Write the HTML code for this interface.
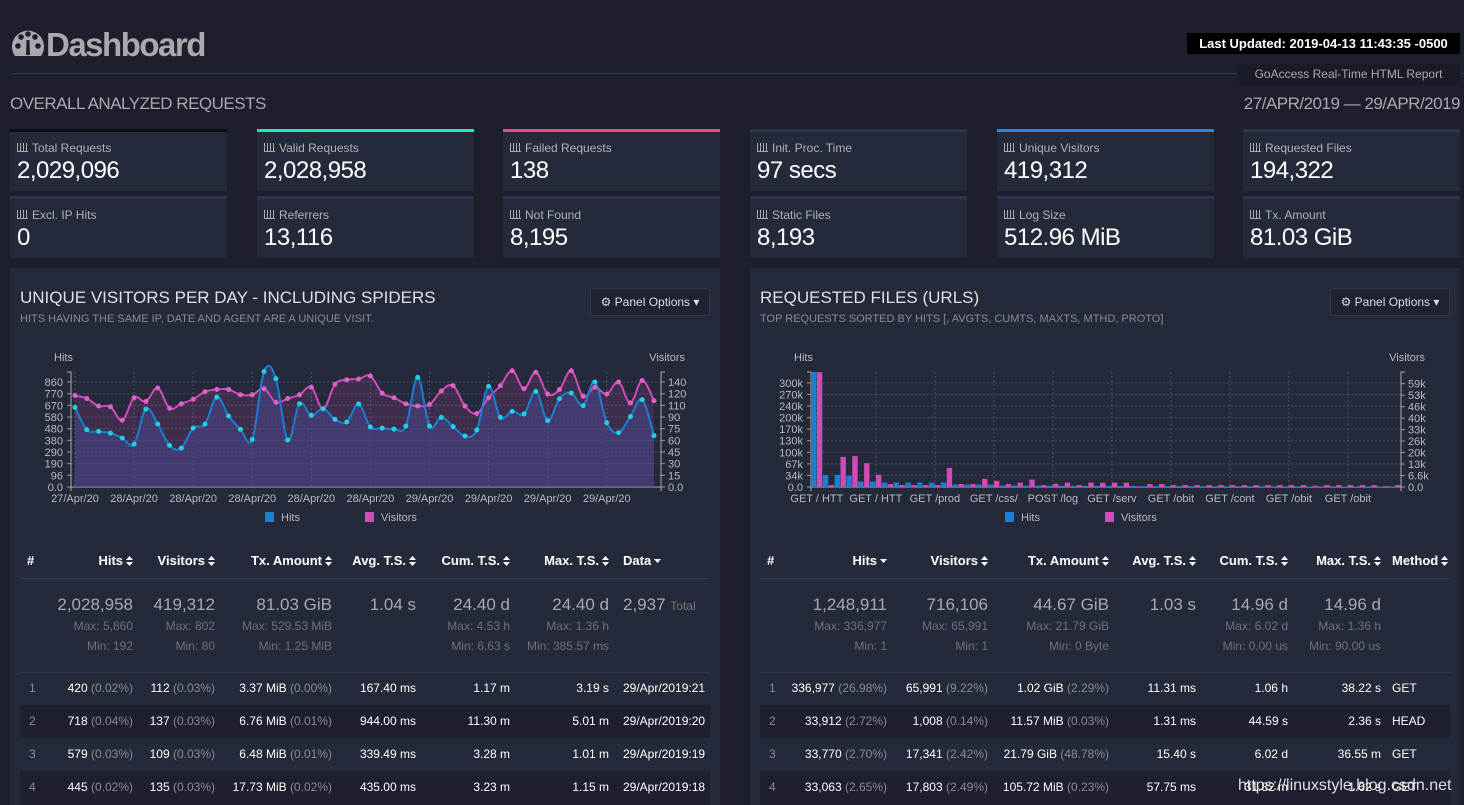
<!DOCTYPE html>
<html><head><meta charset="utf-8"><style>
*{box-sizing:border-box;margin:0;padding:0}
body{width:1464px;height:805px;overflow:hidden;background:#1e1f2d;font-family:"Liberation Sans",sans-serif;position:relative;color:#ddd}
.a{position:absolute;white-space:nowrap}
.card{position:absolute;width:217px;height:62px;background:#252a3b;border-top:3px solid #2d3452}
.card .l{position:absolute;left:7px;top:9px;font-size:12px;color:#b0b0b8}
.card .v{position:absolute;left:7px;top:25px;font-size:24px;color:#fff;letter-spacing:-0.5px}
.ic{display:inline-block;width:11px;height:9px;border-left:1px solid #aaa;border-bottom:1px solid #aaa;margin-right:4px;position:relative;background:linear-gradient(to right,transparent 2px,#aaa 2px,#aaa 3px,transparent 3px,transparent 5px,#aaa 5px,#aaa 6px,transparent 6px,transparent 8px,#aaa 8px,#aaa 9px,transparent 9px)}
.panel{position:absolute;top:268px;width:710px;height:537px;background:#252a3b}
.pt{position:absolute;left:10px;top:20px;font-size:17px;color:#e0e0e0}
.ps{position:absolute;left:10px;top:45px;font-size:11px;color:#8a8a96}
.po{position:absolute;right:10px;top:20px;width:120px;height:28px;background:#1f2231;border:1px solid #32374c;border-radius:3px;font-size:12px;color:#ddd;text-align:center;line-height:26px}
.th{position:absolute;top:553px;font-size:13px;font-weight:bold;color:#fff}
.big{position:absolute;font-size:17px;color:#a8a8b0}
.mm{position:absolute;font-size:12px;color:#70707c}
.td{position:absolute;font-size:12px;color:#fff}
.g{color:#8a8a96}
.r{text-align:right}
.arr{display:inline-block;width:7px;height:10px;margin-left:3px;vertical-align:-1px}
</style></head><body>
<div class="a" style="left:10px;top:26px;font-size:33px;font-weight:bold;color:#a9a9ae;letter-spacing:-1.5px">
<svg width="36" height="30" viewBox="0 0 36 30" style="vertical-align:-2px"><path d="M5 28 A16 16 0 1 1 31 28 Z" fill="#a9a9ae"/><circle cx="8" cy="18" r="2.8" fill="#1e1f2d"/><circle cx="11" cy="9" r="2.8" fill="#1e1f2d"/><circle cx="18" cy="6" r="2.8" fill="#1e1f2d"/><circle cx="25" cy="9" r="2.8" fill="#1e1f2d"/><circle cx="28" cy="18" r="2.8" fill="#1e1f2d"/><path d="M16.5 12 L19.5 12 L20 27 L16 27Z" fill="#1e1f2d"/></svg>Dashboard</div>
<div class="a" style="left:1187px;top:33px;width:273px;height:21px;background:#000;color:#fff;font-weight:bold;font-size:13px;line-height:21px;text-align:center">Last Updated: 2019-04-13 11:43:35 -0500</div>
<div class="a" style="left:10px;top:73px;width:1454px;height:1px;background:#2f3a5c"></div>
<div class="a" style="left:1237px;top:64px;width:223px;height:21px;background:#1a1b27;color:#aaa;font-size:12px;line-height:21px;text-align:center">GoAccess Real-Time HTML Report</div>
<div class="a" style="left:10px;top:94px;font-size:17px;color:#a8a8b0;letter-spacing:-0.5px">OVERALL ANALYZED REQUESTS</div>
<div class="a" style="right:4px;top:94px;font-size:17px;color:#a8a8b0;letter-spacing:-0.5px">27/APR/2019 — 29/APR/2019</div>

<div class="card" style="left:10px;top:129px;border-top-color:#0e0f16"><div class="l"><span class="ic"></span>Total Requests</div><div class="v">2,029,096</div></div>
<div class="card" style="left:257px;top:129px;border-top-color:#14eebf"><div class="l"><span class="ic"></span>Valid Requests</div><div class="v">2,028,958</div></div>
<div class="card" style="left:503px;top:129px;border-top-color:#ec4d8a"><div class="l"><span class="ic"></span>Failed Requests</div><div class="v">138</div></div>
<div class="card" style="left:750px;top:129px"><div class="l"><span class="ic"></span>Init. Proc. Time</div><div class="v">97 secs</div></div>
<div class="card" style="left:997px;top:129px;border-top-color:#2a86e0"><div class="l"><span class="ic"></span>Unique Visitors</div><div class="v">419,312</div></div>
<div class="card" style="left:1243px;top:129px"><div class="l"><span class="ic"></span>Requested Files</div><div class="v">194,322</div></div>
<div class="card" style="left:10px;top:196px"><div class="l"><span class="ic"></span>Excl. IP Hits</div><div class="v">0</div></div>
<div class="card" style="left:257px;top:196px"><div class="l"><span class="ic"></span>Referrers</div><div class="v">13,116</div></div>
<div class="card" style="left:503px;top:196px"><div class="l"><span class="ic"></span>Not Found</div><div class="v">8,195</div></div>
<div class="card" style="left:750px;top:196px"><div class="l"><span class="ic"></span>Static Files</div><div class="v">8,193</div></div>
<div class="card" style="left:997px;top:196px"><div class="l"><span class="ic"></span>Log Size</div><div class="v">512.96 MiB</div></div>
<div class="card" style="left:1243px;top:196px"><div class="l"><span class="ic"></span>Tx. Amount</div><div class="v">81.03 GiB</div></div>

<div class="panel" style="left:10px">
<div class="pt">UNIQUE VISITORS PER DAY - INCLUDING SPIDERS</div>
<div class="ps">HITS HAVING THE SAME IP, DATE AND AGENT ARE A UNIQUE VISIT.</div>
<div class="po">⚙ Panel Options ▾</div>
<div class="a" style="left:10px;top:437px;width:690px;height:33px;background:#1e2030"></div>
<div class="a" style="left:10px;top:503px;width:690px;height:34px;background:#1e2030"></div>
<div class="a" style="left:10px;top:310px;width:690px;height:1px;background:#30395a"></div>
<div class="a" style="left:10px;top:404px;width:690px;height:1px;background:#30395a"></div>
</div>
<div class="panel" style="left:750px">
<div class="pt">REQUESTED FILES (URLS)</div>
<div class="ps">TOP REQUESTS SORTED BY HITS [, AVGTS, CUMTS, MAXTS, MTHD, PROTO]</div>
<div class="po">⚙ Panel Options ▾</div>
<div class="a" style="left:10px;top:437px;width:690px;height:33px;background:#1e2030"></div>
<div class="a" style="left:10px;top:503px;width:690px;height:34px;background:#1e2030"></div>
<div class="a" style="left:10px;top:310px;width:690px;height:1px;background:#30395a"></div>
<div class="a" style="left:10px;top:404px;width:690px;height:1px;background:#30395a"></div>
</div>

<svg id="c" class="a" style="left:0;top:0" width="1464" height="805"></svg>
<div id="tables"></div>
<div class="a" style="left:1238px;top:777px;font-size:16px;color:rgba(255,255,255,0.85)">https://linuxstyle.blog.csdn.net</div>

<script>
// ---- Left chart data ----
const dayLabels = ["27/Apr/20","28/Apr/20","28/Apr/20","28/Apr/20","28/Apr/20","28/Apr/20","29/Apr/20","29/Apr/20","29/Apr/20","29/Apr/20"];
const hitsSeries = [653,470,456,442,401,352,639,516,341,319,483,516,737,582,473,390,947,888,385,683,587,642,555,533,681,492,483,475,500,899,500,571,495,418,467,825,571,620,599,784,544,724,771,667,861,527,445,577,716,421];
const visitorsSeries = [122,118,108,107,89,119,114,132,105,111,117,127,130,130,123,123,131,113,118,123,133,104,137,143,144,148,125,119,111,108,110,128,135,108,98,119,135,155,131,153,124,130,155,121,133,124,140,112,142,115];
const hitsTickVals = [0,96,191,287,383,478,574,670,765,861];
const hitsTickLabels = ["0.0","96","190","290","380","480","580","670","770","860"];
const visTickVals = [0,15.6,31.1,46.7,62.2,77.8,93.3,108.9,124.4,140];
const visTickLabels = ["0.0","15","30","45","60","75","90","110","120","140"];
// ---- Right chart data ----
const fileCats = ["GET / HTTP/1.1","GET / HTTP/2","GET /products","GET /css/main","POST /login","GET /services","GET /obituaries","GET /contact","GET /obituaries/2","GET /obituaries/3"];
const fileHits = [336977,35000,35000,33000,16000,16000,13000,13000,13000,13000,13000,13000,7000,7000,7000,7000,4500,4200,4000,3800,3600,3500,3400,3300,3200,3100,3000,2900,2800,2700,2600,2500,2400,2300,2200,2100,2000,2000,1900,1900,1800,1800,1700,1700,1600,1600,1500,1500,1500,1400];
const fileVisitors = [65991,1100,17341,17803,13700,7000,1700,1100,1100,1100,1100,11000,1700,1700,4700,3600,1700,2500,4200,1100,1800,2500,1100,2500,2500,2500,2500,300,1700,1700,1100,1100,1100,1100,1100,1100,1100,1100,1100,1100,1100,1100,700,1100,1100,1100,1100,1100,500,1100];
const fileHitTickVals = [0,33600,67200,100800,134400,168000,201600,235200,268800,302400];
const fileHitTickLabels = ["0.0","34k","67k","100k","130k","170k","200k","240k","270k","300k"];
const fileVisTickVals = [0,6600,13200,19800,26400,33000,39600,46200,52800,59400];
const fileVisTickLabels = ["0.0","6.6k","13k","20k","26k","33k","40k","46k","53k","59k"];

const NS="http://www.w3.org/2000/svg";
const svg=document.getElementById('c');
function mk(tag,attrs,parent){const e=document.createElementNS(NS,tag);for(const k in attrs)e.setAttribute(k,attrs[k]);(parent||svg).appendChild(e);return e;}
function txt(x,y,s,anchor,fill,size){const t=mk('text',{x:x,y:y,'text-anchor':anchor,fill:fill,'font-size':size,'font-family':'Liberation Sans, sans-serif'});t.textContent=s;return t;}
function smooth(pts){let d='M'+pts[0][0]+','+pts[0][1];for(let i=0;i<pts.length-1;i++){const p0=pts[Math.max(0,i-1)],p1=pts[i],p2=pts[i+1],p3=pts[Math.min(pts.length-1,i+2)];const t=0.18;d+=' C'+(p1[0]+(p2[0]-p0[0])*t)+','+(p1[1]+(p2[1]-p0[1])*t)+' '+(p2[0]-(p3[0]-p1[0])*t)+','+(p2[1]-(p3[1]-p1[1])*t)+' '+p2[0]+','+p2[1];}return d;}

function axes(off,lvals,llabels,lscale,rvals,rlabels,rscale,xlines){
  const L=71+off,R=661+off,B=487,T=372;
  xlines.forEach(x=>{const g=mk('line',{x1:x,x2:x,y1:T,y2:B,stroke:'#4a4e60','stroke-dasharray':'2,2'});});
  lvals.forEach((v,i)=>{const y=lscale(v);if(i>0){const g=mk('line',{x1:L,x2:R,y1:y,y2:y,stroke:'#4a4e60','stroke-dasharray':'2,2'});}
    mk('line',{x1:L-4,x2:L,y1:y,y2:y,stroke:'#999'});
    const t=txt(L-8,y+4,llabels[i],'end','#b8b8c0',11);});
  rvals.forEach((v,i)=>{const y=rscale(v);mk('line',{x1:R,x2:R+4,y1:y,y2:y,stroke:'#999'});
    const t=txt(R+7,y+4,rlabels[i],'start','#b8b8c0',11);});
  mk('path',{d:'M'+(L-4)+','+T+'H'+L+'V'+(B+4),fill:'none',stroke:'#aaa'});
  mk('path',{d:'M'+(R+4)+','+T+'H'+R+'V'+(B+4),fill:'none',stroke:'#aaa'});
  mk('line',{x1:L,x2:R,y1:B,y2:B,stroke:'#aaa'});
  let t=txt(L-17,361,'Hits','start','#b8b8c0',11);
  t=txt(R+24,361,'Visitors','end','#b8b8c0',11);
  [[off+265,'#1a7fd0','Hits'],[off+365,'#d04ab8','Visitors']].forEach(l=>{const r=mk('rect',{x:l[0],y:512,width:9,height:10,fill:l[1]});txt(l[0]+16,521,l[2],'start','#b8b8c0',11);});
}

// Left chart
(function(){
  const n=hitsSeries.length, x0=75, x1=654;
  const xs=i=>x0+(x1-x0)*i/(n-1);
  const hy=v=>487-v*105/861, vy=v=>487-v*105/140;
  const xl=[];for(let i=0;i<n;i+=5)xl.push(xs(i));
  axes(0,hitsTickVals,hitsTickLabels,hy,visTickVals,visTickLabels,vy,xl);
  const vp=visitorsSeries.map((v,i)=>[xs(i),vy(v)]), hp=hitsSeries.map((v,i)=>[xs(i),hy(v)]);
  let a=mk('path',{d:smooth(vp)+' L'+x1+',487 L'+x0+',487 Z',fill:'#d04ab8','fill-opacity':0.15});
  a=mk('path',{d:smooth(hp)+' L'+x1+',487 L'+x0+',487 Z',fill:'#4a4a9a','fill-opacity':0.45});
  let l=mk('path',{d:smooth(vp),fill:'none',stroke:'#d04ab8','stroke-width':2});
  l=mk('path',{d:smooth(hp),fill:'none',stroke:'#1a7fd0','stroke-width':2});
  vp.forEach(p=>{const c=mk('circle',{cx:p[0],cy:p[1],r:2.5,fill:'#e060c8'});});
  hp.forEach(p=>{const c=mk('circle',{cx:p[0],cy:p[1],r:2.5,fill:'#20d0e0'});});
  dayLabels.forEach((s,k)=>{const t=txt(xs(k*5),502,s,'middle','#b8b8c0',11);});
})();

// Right chart
(function(){
  const off=740,L=71+off,R=661+off,n=fileHits.length,w=(R-L)/n;
  const hy=v=>487-Math.min(v,336977)*103.3/300000, vy=v=>487-Math.min(v,65991)*103.3/59400;
  const xl=[];for(let i=0;i<n;i+=5)xl.push(L+i*w+w/2);
  axes(off,fileHitTickVals,fileHitTickLabels,hy,fileVisTickVals,fileVisTickLabels,vy,xl);
  fileHits.forEach((v,i)=>{const y=Math.max(372,hy(v));const b=mk('rect',{x:L+i*w,y:y,width:w/2-0.5,height:487-y,fill:'#1a7fd0'});});
  fileVisitors.forEach((v,i)=>{const y=Math.max(372,vy(v));const b=mk('rect',{x:L+i*w+w/2,y:y,width:w/2-0.5,height:487-y,fill:'#d04ab8'});});
  fileCats.forEach((s,k)=>{const t=txt(L+k*5*w+w/2,502,s.slice(0,9),'middle','#b8b8c0',11);});
})();

// Tables
const arrSvg='<svg class="arr" viewBox="0 0 7 10"><path d="M0 4L3.5 0L7 4Z M0 6L3.5 10L7 6Z" fill="#fff"/></svg>';
const dn='<svg class="arr" viewBox="0 0 7 10"><path d="M0 3L3.5 7L7 3Z" fill="#fff"/></svg>';
const T=document.getElementById('tables');
function add(html){T.insertAdjacentHTML('beforeend',html);}
function table(off,heads,rights,lastLeft,summary,rows){
  add('<div class="th a" style="left:'+(off+27)+'px">#</div>');
  heads.forEach((h,i)=>{const last=i==heads.length-1;
    add('<div class="th a '+(last?'':'r')+'" style="'+(last?'left:'+lastLeft+'px;':'left:'+(rights[i]-140)+'px;width:140px;')+'">'+h[0]+(h[1]?dn:arrSvg)+'</div>');});
  summary.forEach((c,i)=>{if(!c)return;const last=i==summary.length-1;
    const pos=last?'left:'+lastLeft+'px;':'left:'+(rights[i]-140)+'px;width:140px;';
    add('<div class="big a '+(last?'':'r')+'" style="top:595px;'+pos+'">'+c[0]+'</div>');
    if(c[1])add('<div class="mm a r" style="top:619px;'+pos+'">'+c[1]+'</div>');
    if(c[2])add('<div class="mm a r" style="top:639px;'+pos+'">'+c[2]+'</div>');});
  rows.forEach((r,ri)=>{const y=681+ri*33;
    add('<div class="td a g" style="top:'+y+'px;left:'+(off+29)+'px">'+(ri+1)+'</div>');
    r.forEach((c,i)=>{const last=i==r.length-1;
      add('<div class="td a '+(last?'':'r')+'" style="top:'+y+'px;'+(last?'left:'+lastLeft+'px;':'left:'+(rights[i]-140)+'px;width:140px;')+'">'+c+'</div>');});});
}
table(0,[["Hits"],["Visitors"],["Tx. Amount"],["Avg. T.S."],["Cum. T.S."],["Max. T.S."],["Data",1]],[133,215,332,416,510,609],623,
 [["2,028,958","Max: 5,860","Min: 192"],["419,312","Max: 802","Min: 80"],["81.03 GiB","Max: 529.53 MiB","Min: 1.25 MiB"],["1.04 s"],["24.40 d","Max: 4.53 h","Min: 6.63 s"],["24.40 d","Max: 1.36 h","Min: 385.57 ms"],['2,937 <span style="font-size:12px;color:#777">Total</span>']],
 [['420 <span class="g">(0.02%)</span>','112 <span class="g">(0.03%)</span>','3.37 MiB <span class="g">(0.00%)</span>','167.40 ms','1.17 m','3.19 s','29/Apr/2019:21'],
  ['718 <span class="g">(0.04%)</span>','137 <span class="g">(0.03%)</span>','6.76 MiB <span class="g">(0.01%)</span>','944.00 ms','11.30 m','5.01 m','29/Apr/2019:20'],
  ['579 <span class="g">(0.03%)</span>','109 <span class="g">(0.03%)</span>','6.48 MiB <span class="g">(0.01%)</span>','339.49 ms','3.28 m','1.01 m','29/Apr/2019:19'],
  ['445 <span class="g">(0.02%)</span>','135 <span class="g">(0.03%)</span>','17.73 MiB <span class="g">(0.02%)</span>','435.00 ms','3.23 m','1.15 m','29/Apr/2019:18']]);
table(740,[["Hits",1],["Visitors"],["Tx. Amount"],["Avg. T.S."],["Cum. T.S."],["Max. T.S."],["Method"]],[887,988,1109,1196,1288,1381],1392,
 [["1,248,911","Max: 336,977","Min: 1"],["716,106","Max: 65,991","Min: 1"],["44.67 GiB","Max: 21.79 GiB","Min: 0 Byte"],["1.03 s"],["14.96 d","Max: 6.02 d","Min: 0.00 us"],["14.96 d","Max: 1.36 h","Min: 90.00 us"],null],
 [['336,977 <span class="g">(26.98%)</span>','65,991 <span class="g">(9.22%)</span>','1.02 GiB <span class="g">(2.29%)</span>','11.31 ms','1.06 h','38.22 s','GET'],
  ['33,912 <span class="g">(2.72%)</span>','1,008 <span class="g">(0.14%)</span>','11.57 MiB <span class="g">(0.03%)</span>','1.31 ms','44.59 s','2.36 s','HEAD'],
  ['33,770 <span class="g">(2.70%)</span>','17,341 <span class="g">(2.42%)</span>','21.79 GiB <span class="g">(48.78%)</span>','15.40 s','6.02 d','36.55 m','GET'],
  ['33,063 <span class="g">(2.65%)</span>','17,803 <span class="g">(2.49%)</span>','105.72 MiB <span class="g">(0.23%)</span>','57.75 ms','31.82 m','1.62 s','GET']]);
</script>
</body></html>
